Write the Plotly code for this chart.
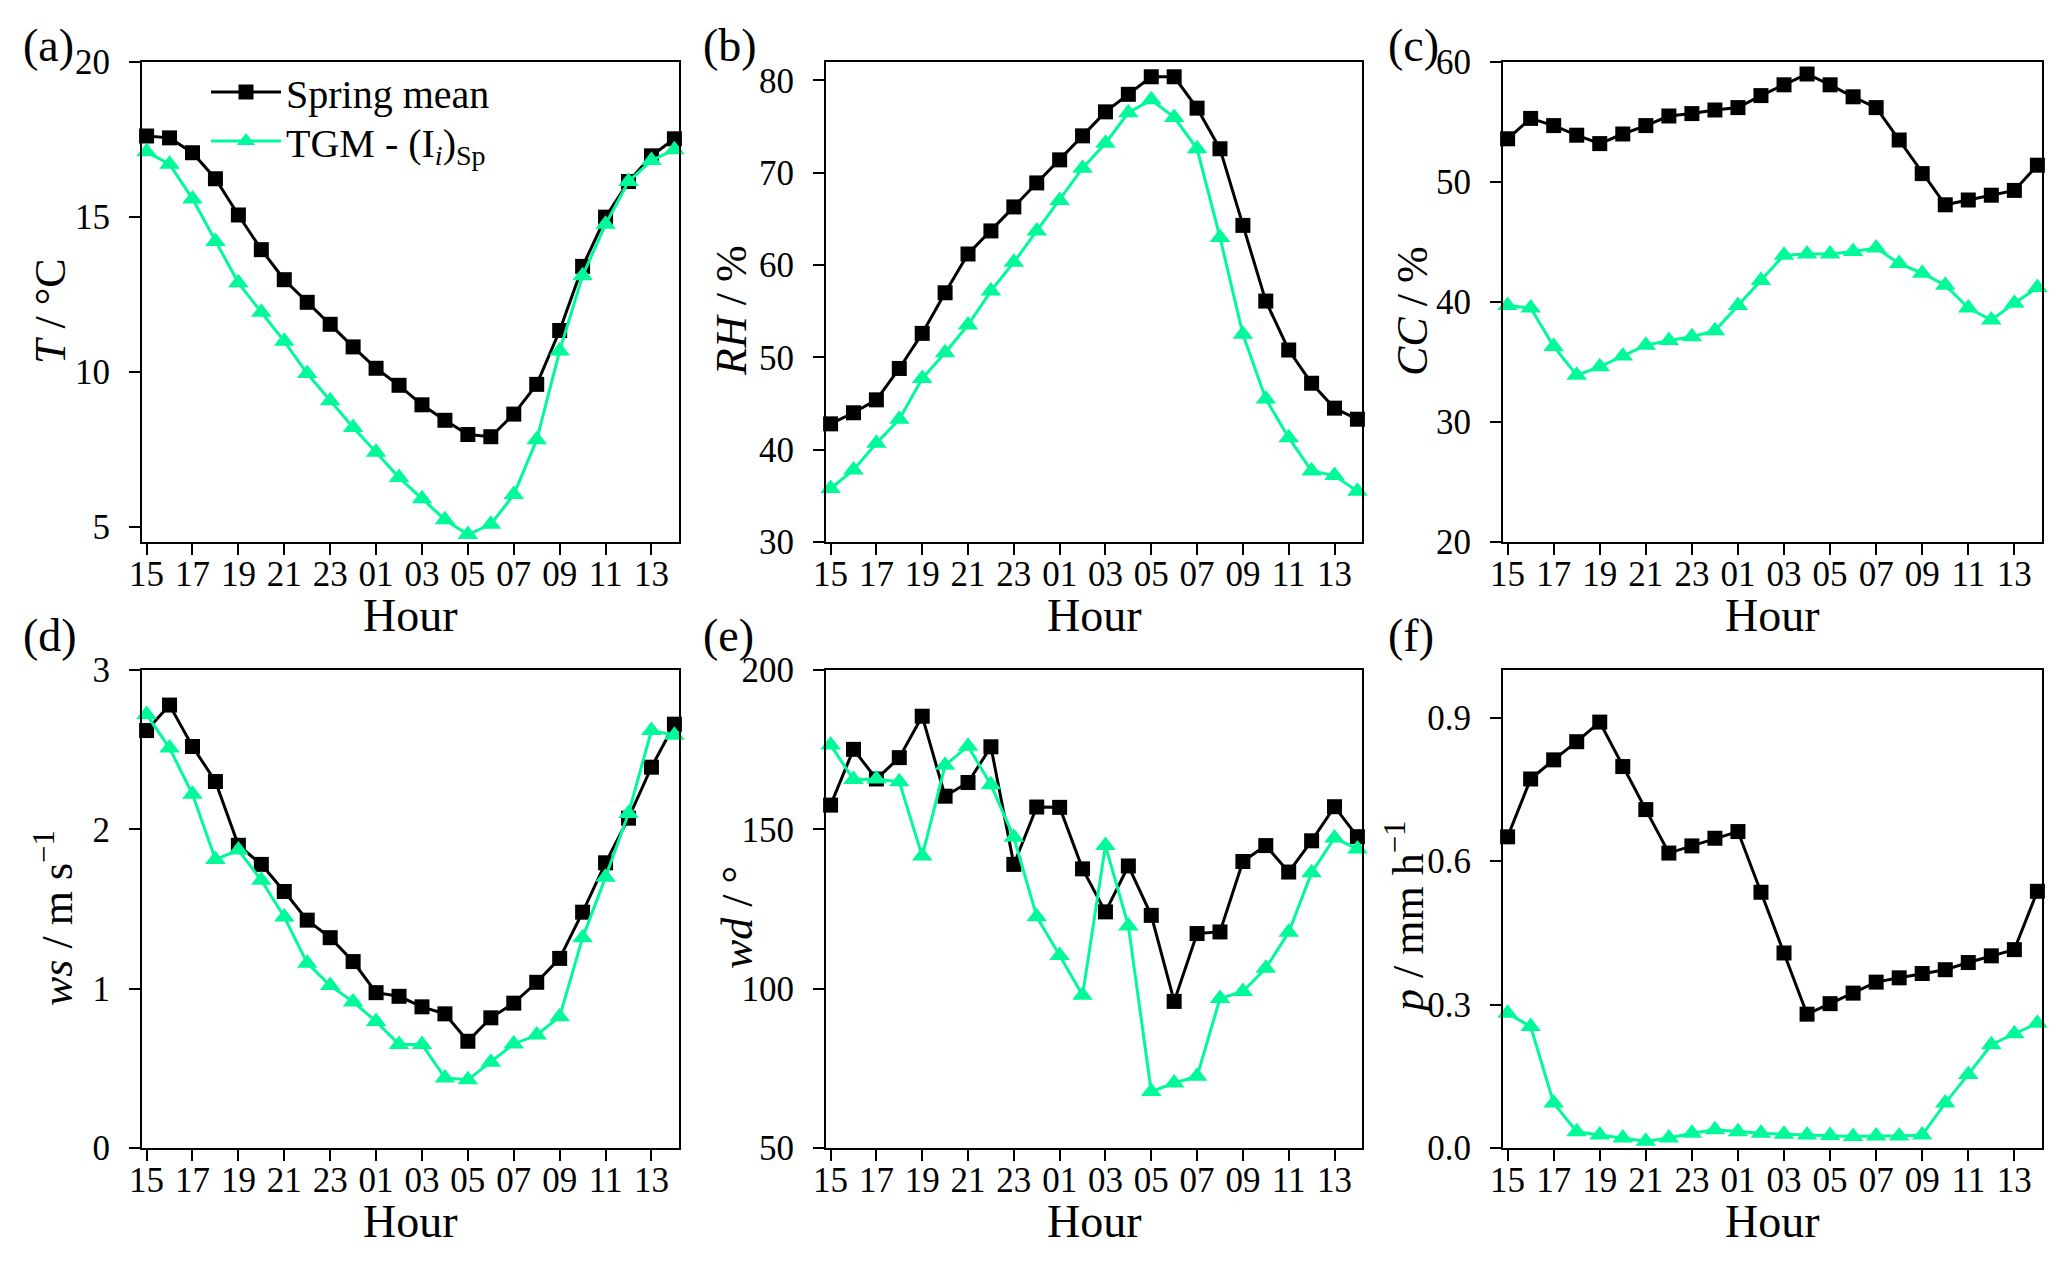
import plotly.graph_objs as go
from plotly.subplots import make_subplots

# hours of the day, starting at 15 h
hours = ["15", "16", "17", "18", "19", "20", "21", "22", "23", "00", "01", "02",
         "03", "04", "05", "06", "07", "08", "09", "10", "11", "12", "13", "14"]
hour_ticks = hours[::2]

T_mean = [17.61, 17.55, 17.07, 16.23, 15.06, 13.94, 12.97, 12.24, 11.53, 10.80, 10.11, 9.56,
          8.93, 8.43, 7.97, 7.90, 8.63, 9.59, 11.33, 13.40, 14.99, 16.14, 16.97, 17.52]
T_tgm = [17.10, 16.70, 15.58, 14.20, 12.87, 11.92, 10.98, 9.94, 9.06, 8.20, 7.40, 6.58,
         5.90, 5.22, 4.74, 5.07, 6.03, 7.80, 10.67, 13.10, 14.76, 16.14, 16.82, 17.17]

RH_mean = [42.8, 44.0, 45.4, 48.8, 52.6, 57.0, 61.2, 63.7, 66.3, 68.9, 71.4, 74.0,
           76.6, 78.5, 80.4, 80.4, 77.0, 72.6, 64.3, 56.1, 50.8, 47.2, 44.5, 43.3]
RH_tgm = [35.8, 37.8, 40.7, 43.3, 47.7, 50.5, 53.5, 57.2, 60.3, 63.7, 67.0, 70.5,
          73.2, 76.5, 77.9, 76.0, 72.6, 63.0, 52.5, 45.5, 41.3, 37.7, 37.2, 35.5]

CC_mean = [53.6, 55.3, 54.7, 53.9, 53.2, 54.0, 54.7, 55.5, 55.7, 56.0, 56.2, 57.2,
           58.1, 59.0, 58.1, 57.1, 56.2, 53.5, 50.7, 48.1, 48.5, 48.9, 49.3, 51.4]
CC_tgm = [39.7, 39.5, 36.3, 33.9, 34.6, 35.5, 36.4, 36.8, 37.1, 37.6, 39.7, 41.8,
          43.9, 44.0, 44.0, 44.2, 44.5, 43.2, 42.4, 41.4, 39.5, 38.5, 39.9, 41.2]

ws_mean = [2.62, 2.78, 2.52, 2.30, 1.90, 1.78, 1.61, 1.43, 1.32, 1.17, 0.975, 0.952,
           0.886, 0.842, 0.67, 0.817, 0.909, 1.04, 1.19, 1.48, 1.79, 2.07, 2.39, 2.66]
ws_tgm = [2.72, 2.51, 2.22, 1.81, 1.87, 1.68, 1.45, 1.16, 1.02, 0.917, 0.794, 0.650,
          0.650, 0.44, 0.428, 0.538, 0.653, 0.709, 0.824, 1.32, 1.70, 2.10, 2.62, 2.59]

wd_mean = [157.6, 175.1, 165.8, 172.5, 185.5, 160.4, 164.7, 175.9, 139.0, 157.0, 156.9, 137.6,
           124.1, 138.5, 123.0, 96.0, 117.3, 117.8, 139.9, 144.9, 136.6, 146.4, 157.1, 147.7]
wd_tgm = [176.5, 165.6, 165.8, 164.9, 141.6, 170.1, 176.1, 164.0, 147.5, 122.6, 110.4, 97.9,
          144.9, 119.7, 67.7, 70.4, 72.5, 96.9, 99.1, 106.4, 117.7, 136.4, 147.3, 143.8]

p_mean = [0.651, 0.772, 0.812, 0.850, 0.891, 0.798, 0.708, 0.617, 0.632, 0.648, 0.662, 0.535,
          0.408, 0.280, 0.302, 0.324, 0.347, 0.356, 0.365, 0.373, 0.388, 0.402, 0.415, 0.537]
p_tgm = [0.282, 0.254, 0.094, 0.034, 0.027, 0.021, 0.014, 0.021, 0.031, 0.038, 0.034, 0.031,
         0.029, 0.027, 0.026, 0.024, 0.025, 0.025, 0.027, 0.094, 0.154, 0.216, 0.239, 0.261]

panels = [
    ("(a)", T_mean, T_tgm, "<i>T</i> / °C", [4.5, 20], [5, 10, 15, 20], 50),
    ("(b)", RH_mean, RH_tgm, "<i>RH</i> / %", [30, 82], [30, 40, 50, 60, 70, 80], 731),
    ("(c)", CC_mean, CC_tgm, "<i>CC</i> / %", [20, 60], [20, 30, 40, 50, 60], 1412),
    ("(d)", ws_mean, ws_tgm, "<i>ws</i> / m s<sup>−1</sup>", [0, 3], [0, 1, 2, 3], 54),
    ("(e)", wd_mean, wd_tgm, "<i>wd</i> / °", [50, 200], [50, 100, 150, 200], 737),
    ("(f)", p_mean, p_tgm, "<i>p</i> / mm h<sup>−1</sup>", [0, 1.0], [0.0, 0.3, 0.6, 0.9], 1405),
]

W, H = 2067, 1263
OFF = 8  # page body margin


def px(x):
    return (x - OFF) / W


def py(y):
    return 1 - (y - OFF) / H


col_px = [(142, 679), (826, 1362), (1503, 2042)]
row_px = [(62, 542), (670, 1148)]
label_x = [23, 703, 1388]
label_y = [46, 635]

FONT = "Liberation Serif"
GREEN = "#00FA9A"

fig = make_subplots(rows=2, cols=3)

for i, (lab, mean, tgm, ytitle, yrange, yticks, ytx) in enumerate(panels):
    r, c = i // 3 + 1, i % 3 + 1
    fig.add_trace(go.Scatter(x=hours, y=mean, mode="lines+markers", name="Spring mean",
                             line=dict(color="black", width=3),
                             marker=dict(symbol="square", size=15, color="black"),
                             showlegend=(i == 0), legend="legend", cliponaxis=False),
                  row=r, col=c)
    fig.add_trace(go.Scatter(x=hours, y=tgm, mode="lines+markers",
                             name="TGM - (I<sub><i>i</i></sub>)<sub>Sp</sub>",
                             line=dict(color=GREEN, width=3),
                             marker=dict(symbol="triangle-up", size=18, color=GREEN),
                             showlegend=(i == 0), legend="legend2", cliponaxis=False),
                  row=r, col=c)

    x0, x1 = col_px[c - 1]
    y0, y1 = row_px[r - 1]
    fig.update_xaxes(domain=[px(x0), px(x1)], type="category", range=[-0.2, 23.2],
                     automargin=False,
                     tickmode="array", tickvals=hour_ticks, ticktext=hour_ticks,
                     ticks="outside", ticklen=11, tickwidth=2, tickcolor="black",
                     ticklabelstandoff=-11,
                     showline=True, linewidth=2, linecolor="black", mirror=True,
                     showgrid=False, zeroline=False,
                     tickfont=dict(family=FONT, size=35, color="black"),
                     row=r, col=c)
    fig.update_yaxes(domain=[py(y1), py(y0)], range=yrange, tickmode="array", tickvals=yticks,
                     automargin=False,
                     tickformat=".1f" if lab == "(f)" else None,
                     ticks="outside", ticklen=11, tickwidth=2, tickcolor="black",
                     ticklabelstandoff=12,
                     showline=True, linewidth=2, linecolor="black", mirror=True,
                     showgrid=False, zeroline=False,
                     tickfont=dict(family=FONT, size=35, color="black"),
                     row=r, col=c)

    # panel letter
    fig.add_annotation(text=lab, xref="paper", yref="paper", x=px(label_x[c - 1] - 2),
                       y=py(label_y[r - 1]), xanchor="left", yanchor="middle", showarrow=False,
                       font=dict(family=FONT, size=46, color="black"))
    # x title
    fig.add_annotation(text="Hour", xref="paper", yref="paper", x=px((x0 + x1) / 2),
                       y=py(y1 + 73), xanchor="center", yanchor="middle", showarrow=False,
                       font=dict(family=FONT, size=46, color="black"))
    # y title
    fig.add_annotation(text=ytitle, xref="paper", yref="paper", x=px(ytx),
                       y=py((y0 + y1) / 2 + 9), xanchor="center", yanchor="middle",
                       textangle=-90, showarrow=False,
                       font=dict(family=FONT, size=44, color="black"))

legend_style = dict(xanchor="left", yanchor="middle", bgcolor="rgba(0,0,0,0)",
                    font=dict(family=FONT, size=40, color="black"), itemwidth=70,
                    borderwidth=0)

fig.update_layout(
    width=W, height=H,
    margin=dict(l=0, r=0, t=0, b=0, autoexpand=False),
    paper_bgcolor="white", plot_bgcolor="white",
    font=dict(family=FONT, color="black"),
    legend=dict(x=px(206), y=py(92), **legend_style),
    legend2=dict(x=px(206), y=py(141), **legend_style),
)

fig.write_html("out.html")
